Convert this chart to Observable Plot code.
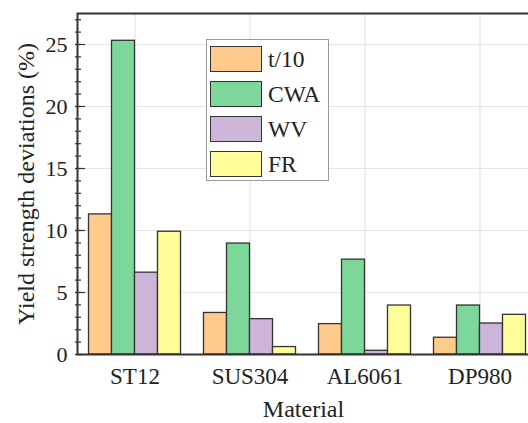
<!DOCTYPE html>
<html>
<head>
<meta charset="utf-8">
<script src="https://cdn.jsdelivr.net/npm/d3@7"></script>
<script src="https://cdn.jsdelivr.net/npm/@observablehq/plot@0.6"></script>
<style>
  html, body { margin: 0; padding: 0; background: #fff; overflow: hidden; }
  #chart { position: relative; width: 528px; height: 423px; overflow: hidden; }
  #chart svg { max-width: none !important; }
  .legend {
    position: absolute; left: 206px; top: 39px; width: 123px; height: 142px;
    box-sizing: border-box; border: 1px solid #9a9a9a; background: #fff;
    font-family: "Liberation Serif", serif; font-size: 23.5px; color: #222;
  }
  .legend .row { position: absolute; left: 3px; height: 26px; display: flex; align-items: center; }
  .legend .sw { width: 50px; height: 24px; border: 1.4px solid #333; box-sizing: content-box; margin-right: 6px; }
</style>
</head>
<body>
<div id="chart"></div>
<script>
// Yield strength deviations per material and identification method
const materials = ["ST12", "SUS304", "AL6061", "DP980"];
const series = ["t/10", "CWA", "WV", "FR"];
const t10 = [11.3, 3.35, 2.45, 1.35];
const cwa = [25.3, 8.95, 7.65, 3.95];
const wv  = [6.6, 2.85, 0.3, 2.5];
const fr  = [9.9, 0.6, 3.95, 3.2];
const colors = ["#fecb8c", "#7dd79a", "#cdb5da", "#fffd9a"];
const yTicks = [0, 5, 10, 15, 20, 25];
const yMinorTicks = d3.range(0, 28);

const values = [t10, cwa, wv, fr];
const rows = series.flatMap((s, j) =>
  materials.map((m, i) => ({material: m, mi: i, series: s, sj: j, value: values[j][i]}))
);

// bars of one group sit side by side, each a fifth of a category step wide
const barW = 0.2;

const plot = Plot.plot({
  width: 546,
  height: 423,
  marginLeft: 77,
  marginRight: 9,
  marginTop: 13,
  marginBottom: 69,
  style: {fontFamily: "'Liberation Serif', serif", fontSize: "22px", color: "#222", background: "#fff", maxWidth: "none"},
  x: {type: "linear", domain: [-0.5, materials.length - 0.5]},
  y: {domain: [0, 27.5]},
  color: {domain: series, range: colors},
  marks: [
    Plot.gridY({ticks: yTicks.slice(1), stroke: "#e4e4e4", strokeOpacity: 1, strokeWidth: 1.2}),
    Plot.gridX({ticks: d3.range(materials.length), stroke: "#e4e4e4", strokeOpacity: 1, strokeWidth: 1.2}),
    Plot.rectY(rows, {
      x1: d => d.mi - 2 * barW + d.sj * barW,
      x2: d => d.mi - barW + d.sj * barW,
      y1: 0,
      y2: "value",
      fill: "series",
      stroke: "#333",
      strokeWidth: 1.3
    }),
    // inward minor and major ticks
    Plot.axisY({ticks: yMinorTicks, tickSize: 6, dx: 4, tickFormat: () => "", label: null, stroke: "#333", strokeWidth: 1.2}),
    Plot.axisY({ticks: yTicks, tickSize: 10, dx: 8, tickFormat: () => "", label: null, stroke: "#333", strokeWidth: 1.2}),
    Plot.axisY({ticks: yTicks, tickSize: 0, tickPadding: 10, fontSize: 22, label: null}),
    Plot.axisX({ticks: d3.range(materials.length), tickFormat: i => materials[i], tickSize: 0, tickPadding: 13, fontSize: 23, label: null}),
    Plot.frame({stroke: "#333", strokeWidth: 2}),
    Plot.text(["Yield strength deviations (%)"], {frameAnchor: "left", textAnchor: "middle", lineAnchor: "middle", rotate: -90, dx: -51, fontSize: 24, fill: "#222"}),
    Plot.text(["Material"], {frameAnchor: "bottom", textAnchor: "middle", lineAnchor: "middle", dy: 55, dx: -4, fontSize: 24, fill: "#222"})
  ]
});

const chart = document.getElementById("chart");
chart.appendChild(plot);

// legend box drawn over the plot area
const legend = document.createElement("div");
legend.className = "legend";
series.forEach((s, j) => {
  const row = document.createElement("div");
  row.className = "row";
  row.style.top = (6 + j * 35) + "px";
  const sw = document.createElement("div");
  sw.className = "sw";
  sw.style.background = colors[j];
  const label = document.createElement("span");
  label.textContent = s;
  row.appendChild(sw);
  row.appendChild(label);
  legend.appendChild(row);
});
chart.appendChild(legend);
</script>
</body>
</html>
